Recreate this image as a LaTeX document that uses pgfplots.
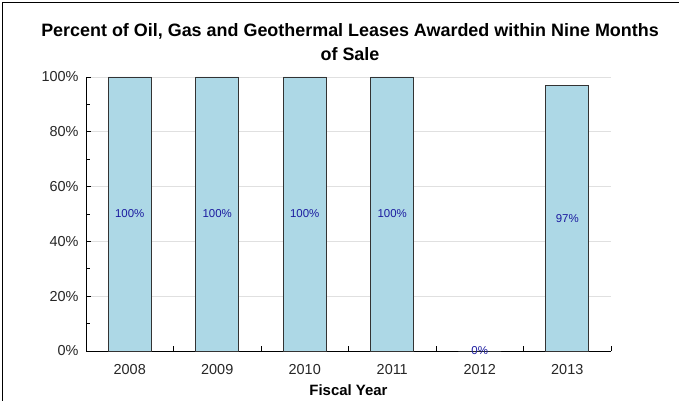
\documentclass[border=0pt]{standalone}
\usepackage{pgfplots}
\pgfplotsset{compat=1.18}
\usepackage{pgfplotstable}
\usepackage{fontspec}
\setmainfont{Liberation Sans}
\definecolor{barblue}{HTML}{ADD8E6}
\definecolor{lblblue}{HTML}{1C1CA0}
\pgfplotstableread{
x y
0 100
1 100
2 100
3 100
4 0
5 97
}\leasedata
\begin{document}
\begin{tikzpicture}
\path[use as bounding box] (0bp,0bp) rectangle (679bp,401bp);
\draw[black, line width=1bp] (2bp,0bp) -- (2bp,398bp) -- (679bp,398bp);
\node[font=\bfseries\fontsize{18}{23}\selectfont, anchor=base] at (350bp,364bp)
  {Percent of Oil, Gas and Geothermal Leases Awarded within Nine Months};
\node[font=\bfseries\fontsize{18}{23}\selectfont, anchor=base] at (350bp,340bp)
  {of Sale};
\begin{axis}[
  at={(86bp,50bp)}, anchor=south west,
  width=525bp, height=274bp, scale only axis,
  xmin=-0.5, xmax=5.5, ymin=0, ymax=100,
  /pgf/number format/assume math mode=true,
  axis lines*=left,
  axis line style={black, line width=0.8bp},
  tick align=inside,
  major tick length=5bp, minor tick length=4bp,
  tick style={black, line width=0.8bp},
  xtick={-0.5,0.5,1.5,2.5,3.5,4.5,5.5},
  xticklabels={},
  extra x ticks={0,1,2,3,4,5},
  extra x tick labels={2008,2009,2010,2011,2012,2013},
  extra x tick style={major tick length=0pt},
  xticklabel style={anchor=base, yshift=-23bp},
  ytick={0,20,40,60,80,100},
  minor y tick num=1,
  yticklabel={\pgfmathprintnumber{\tick}\%},
  yticklabel style={xshift=-4bp},
  ymajorgrids,
  grid style={color=black!12, line width=0.8bp},
  ticklabel style={font=\fontsize{14.5}{17}\selectfont, text=black!85},
  xlabel={Fiscal Year},
  xlabel style={font=\bfseries\fontsize{15}{17}\selectfont, anchor=base,
    at={(axis description cs:0.5,0)}, yshift=-44bp},
  clip=false,
]
\addplot[ybar, bar width=0.49, fill=barblue, draw=black!80, line width=0.8bp,
  visualization depends on={rawy \as \rawy},
  nodes near coords={\pgfmathprintnumber{\pgfplotspointmeta}\%},
  every node near coord/.append style={anchor=center, font=\fontsize{11.5}{13}\selectfont,
    text=lblblue, yshift={-\rawy*1.37bp}},
] table[x=x, y=y] {\leasedata};
\end{axis}
\end{tikzpicture}
\end{document}
